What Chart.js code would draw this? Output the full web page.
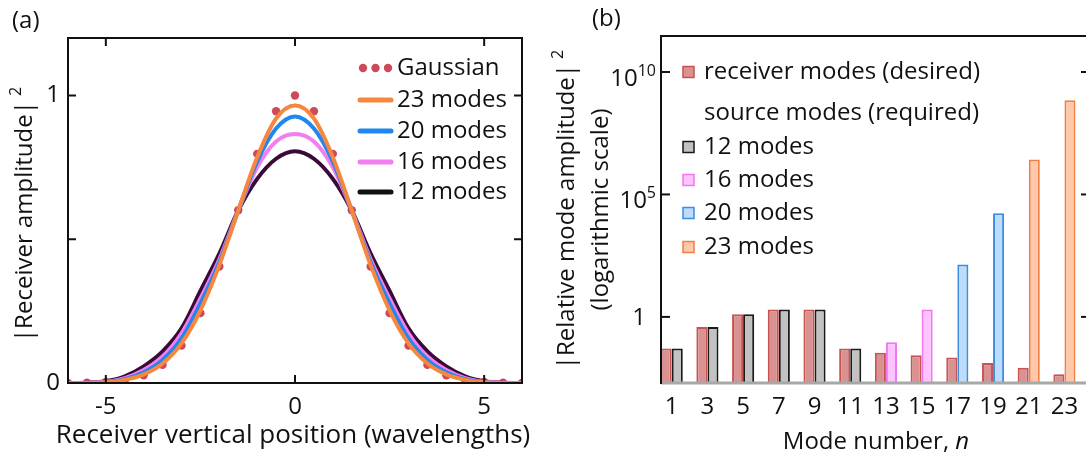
<!DOCTYPE html>
<html><head><meta charset="utf-8">
<script src="https://cdn.jsdelivr.net/npm/chart.js@4.4.1/dist/chart.umd.min.js"></script>
<style>
html,body{margin:0;padding:0;background:#fff;overflow:hidden;width:1086px;height:455px}
#wa{position:absolute;left:0;top:0;width:540px;height:455px}
#wb{position:absolute;left:540px;top:0;width:546px;height:455px;overflow:hidden}
canvas{display:block}
</style></head><body>
<div id="wa"><canvas id="ca" width="540" height="455"></canvas></div>
<div id="wb"><canvas id="cb" width="560" height="455"></canvas></div>
<script>
// ---------- panel (a) data ----------
const positions = [-6,-5.5,-5,-4.5,-4,-3.5,-3,-2.5,-2,-1.5,-1,-0.5,0,0.5,1,1.5,2,2.5,3,3.5,4,4.5,5,5.5,6];
const gaussian = [0.0003,0.001,0.0035,0.010,0.027,0.063,0.130,0.243,0.405,0.601,0.797,0.945,1.000,0.945,0.797,0.601,0.405,0.243,0.130,0.063,0.027,0.010,0.0035,0.001,0.0003];
const modes23  = [0,0.0002,0.003,0.011,0.030,0.068,0.138,0.253,0.410,0.600,0.785,0.920,0.965,0.920,0.785,0.600,0.410,0.253,0.138,0.068,0.030,0.011,0.003,0.0002,0];
const modes20  = [0,0.0003,0.003,0.013,0.037,0.080,0.155,0.277,0.420,0.600,0.770,0.885,0.927,0.885,0.770,0.600,0.420,0.277,0.155,0.080,0.037,0.013,0.003,0.0003,0];
const modes16  = [0,0.0005,0.004,0.017,0.045,0.092,0.173,0.294,0.430,0.600,0.750,0.840,0.866,0.840,0.750,0.600,0.430,0.294,0.173,0.092,0.045,0.017,0.004,0.0005,0];
const modes12  = [0,0.001,0.006,0.023,0.058,0.110,0.190,0.320,0.450,0.600,0.710,0.780,0.806,0.780,0.710,0.600,0.450,0.320,0.190,0.110,0.058,0.023,0.006,0.001,0];
const xTicksA = [-5,0,5];
const yTicksA = [0,0.5,1];
const yTickLabelsA = ['0','','1'];
const legendNamesA = ['Gaussian','23 modes','20 modes','16 modes','12 modes'];

// ---------- panel (b) data ----------
const modeNumbers = [1,3,5,7,9,11,13,15,17,19,21,23];
const receiverAmp = [0.051,0.39,1.29,2.0,2.0,0.051,0.034,0.027,0.022,0.013,0.0083,0.0046];
const sourceAmp   = [0.051,0.39,1.29,2.0,2.0,0.051,0.093,2.0,138,17000,2.7e6,7e8];
const sourceModeCount = [12,12,12,12,12,12,16,16,20,20,23,23];
const yTicksB = [1,1e5,1e10];
const yTickExpB = ['', '5', '10'];
const legendCountsB = [12,16,20,23];

// ---------- styles ----------
const TEXT = '#111111';
const FONT = '"Open Sans", Lato, sans-serif';
const COL = {gauss:'#cf4a59', m23:'#f7873f', m20:'#1f87ee', m16:'#f27ef0', m12:'#3a0a38', m12legend:'#111111'};
const SRC_FILL = {12:'#c2c2c2',16:'#ffc4ff',20:'#bddcfb',23:'#fdc9aa'};
const SRC_EDGE = {12:'#1a1a1a',16:'#ee77ee',20:'#3b8de0',23:'#f47f45'};
const RCV_FILL = '#d99191', RCV_EDGE = '#c65450';

Chart.defaults.font.family = FONT;
Chart.defaults.color = TEXT;

function line(ctx,x1,y1,x2,y2){ctx.beginPath();ctx.moveTo(x1,y1);ctx.lineTo(x2,y2);ctx.stroke();}

const plugA = {
  id:'panelA',
  afterDatasetsDraw(chart){
    const {ctx, chartArea:a, scales:{x,y}} = chart;
    ctx.save();
    ctx.strokeStyle = '#111'; ctx.lineWidth = 2;
    ctx.strokeRect(a.left, a.top, a.right-a.left, a.bottom-a.top);
    xTicksA.forEach(v=>{const p=x.getPixelForValue(v); line(ctx,p,a.bottom,p,a.bottom-8); line(ctx,p,a.top,p,a.top+8);});
    yTicksA.forEach(v=>{const p=y.getPixelForValue(v); line(ctx,a.left,p,a.left+8,p); line(ctx,a.right,p,a.right-8,p);});
    ctx.restore();
  },
  afterDraw(chart){
    const {ctx, chartArea:a} = chart;
    ctx.save();
    ctx.fillStyle = TEXT; ctx.textBaseline = 'middle';
    ctx.font = '24px '+FONT; ctx.textAlign='left';
    ctx.fillText('(a)', 12, 21);
    ctx.textAlign='center';
    ctx.font = '26px '+FONT;
    ctx.fillText('Receiver vertical position (wavelengths)', (a.left+a.right)/2 - 2, 436);
    ctx.save();
    ctx.translate(25, (a.top+a.bottom)/2 + 4);
    ctx.rotate(-Math.PI/2);
    const mainT = '|Receiver amplitude|';
    ctx.font = '24px '+FONT; const mw = ctx.measureText(mainT).width;
    ctx.font = '16px '+FONT; const sw = ctx.measureText('2').width;
    const tot = mw + 5 + sw;
    ctx.textAlign='left';
    ctx.font = '24px '+FONT; ctx.fillText(mainT, -tot/2, 0);
    ctx.font = '16px '+FONT; ctx.fillText('2', -tot/2+mw+5, -9);
    ctx.restore();
    const ds = chart.data.datasets;
    const byName = {}; ds.forEach(d=>byName[d.label]=d);
    const rows = [68, 100, 131, 162, 192];
    ctx.font = '24px '+FONT; ctx.textAlign='left';
    legendNamesA.forEach((name,i)=>{
      const yy = rows[i];
      const d = byName[name];
      if (name==='Gaussian'){
        ctx.fillStyle = d.pointBackgroundColor;
        [363,375.5,388].forEach(cx=>{ctx.beginPath();ctx.arc(cx,yy,4.2,0,Math.PI*2);ctx.fill();});
      } else {
        ctx.strokeStyle = name==='12 modes' ? COL.m12legend : d.borderColor;
        ctx.lineWidth = 5; ctx.lineCap='round';
        line(ctx,360,yy,391,yy);
      }
      ctx.fillStyle = TEXT;
      ctx.fillText(name, 397, yy);
    });
    ctx.restore();
  }
};

const lineDs = (label, vals, color) => ({label, data: positions.map((x,i)=>({x, y:vals[i]})), borderColor:color, backgroundColor:color, borderWidth:4, pointRadius:0, cubicInterpolationMode:'monotone', fill:false});

new Chart(document.getElementById('ca'), {
  type:'line',
  data:{datasets:[
    lineDs('23 modes', modes23, COL.m23),
    lineDs('20 modes', modes20, COL.m20),
    lineDs('16 modes', modes16, COL.m16),
    lineDs('12 modes', modes12, COL.m12),
    {label:'Gaussian', data: positions.map((x,i)=>({x, y:gaussian[i]})), showLine:false, pointRadius:4.2, pointBackgroundColor:COL.gauss, pointBorderWidth:0, borderColor:COL.gauss, backgroundColor:COL.gauss}
  ]},
  options:{
    responsive:false, animation:false, devicePixelRatio:1,
    layout:{padding:{left:0, top:38, right:18, bottom:0}},
    plugins:{legend:{display:false}, tooltip:{enabled:false}},
    scales:{
      x:{type:'linear', min:-6, max:6, grid:{display:false, drawTicks:false}, border:{display:false},
         afterBuildTicks:s=>{s.ticks = xTicksA.map(v=>({value:v}));},
         afterFit:s=>{s.height = 72;},
         ticks:{font:{size:24}, color:TEXT, padding:10, maxRotation:0, autoSkip:false}},
      y:{type:'linear', min:0, max:1.2, grid:{display:false, drawTicks:false}, border:{display:false},
         afterBuildTicks:s=>{s.ticks = yTicksA.map(v=>({value:v}));},
         afterFit:s=>{s.width = 68;},
         ticks:{font:{size:24}, color:TEXT, padding:8, autoSkip:false, callback:(v,i)=>yTickLabelsA[i]}}
    }
  },
  plugins:[plugA]
});

const plugB = {
  id:'panelB',
  afterDatasetsDraw(chart){
    const {ctx, chartArea:a, scales:{y}} = chart;
    ctx.save();
    ctx.lineCap='butt';
    ctx.strokeStyle = '#a8a8a8'; ctx.lineWidth = 3;
    line(ctx, a.left, a.bottom, a.right, a.bottom);
    ctx.strokeStyle = '#111'; ctx.lineWidth = 2;
    line(ctx, a.left, a.top, a.left, a.bottom+1);
    line(ctx, a.left-1, a.top, a.right, a.top);
    line(ctx, a.right, a.top, a.right, a.bottom);
    yTicksB.forEach(v=>{const p=y.getPixelForValue(v); line(ctx,a.left,p,a.left+9,p); line(ctx,a.right,p,a.right-7,p);});
    ctx.restore();
  },
  afterDraw(chart){
    const {ctx, chartArea:a, scales:{y}} = chart;
    ctx.save();
    ctx.fillStyle = TEXT; ctx.textBaseline='middle';
    yTicksB.forEach((v,i)=>{
      const p = y.getPixelForValue(v);
      const e = yTickExpB[i];
      if (!e){
        ctx.font='24px '+FONT; ctx.textAlign='right';
        ctx.fillText('1', a.left-15, p+1);
      } else {
        ctx.font='16px '+FONT; ctx.textAlign='right';
        const ew = ctx.measureText(e).width;
        ctx.fillText(e, a.left-5, p-1);
        ctx.font='24px '+FONT;
        ctx.fillText('10', a.left-5-ew, p+7);
      }
    });
    ctx.font='24px '+FONT; ctx.textAlign='left';
    ctx.fillText('(b)', 52, 19);
    const t1 = 'Mode number, ';
    ctx.font='24px '+FONT; const w1 = ctx.measureText(t1).width;
    ctx.font='italic 24px '+FONT; const w2 = ctx.measureText('n').width;
    const cx = 336, x0 = cx-(w1+w2)/2;
    ctx.textAlign='left';
    ctx.font='24px '+FONT; ctx.fillText(t1, x0, 442);
    ctx.font='italic 24px '+FONT; ctx.fillText('n', x0+w1, 442);
    const cy = (a.top+a.bottom)/2;
    ctx.save();
    ctx.translate(27, cy); ctx.rotate(-Math.PI/2);
    const m1 = '|Relative mode amplitude|';
    ctx.font='24px '+FONT; const mw = ctx.measureText(m1).width;
    ctx.font='16px '+FONT; const sw = ctx.measureText('2').width;
    const tot = mw+5+sw;
    ctx.textAlign='left';
    ctx.font='24px '+FONT; ctx.fillText(m1, -tot/2, 0);
    ctx.font='16px '+FONT; ctx.fillText('2', -tot/2+mw+5, -9);
    ctx.restore();
    ctx.save();
    ctx.translate(61, cy); ctx.rotate(-Math.PI/2);
    ctx.font='24px '+FONT; ctx.textAlign='center';
    ctx.fillText('(logarithmic scale)', 0, 0);
    ctx.restore();
    const rows = [72, 113, 147, 180, 213, 247];
    const entries = [
      {text:chart.data.datasets[0].label, fill:RCV_FILL, edge:RCV_EDGE},
      {text:chart.data.datasets[1].label, fill:null},
      ...legendCountsB.map(c=>({text:c+' modes', fill:SRC_FILL[c], edge:SRC_EDGE[c]}))
    ];
    ctx.font='24px '+FONT; ctx.textAlign='left';
    entries.forEach((en,i)=>{
      const yy = rows[i];
      if (en.fill){
        ctx.fillStyle = en.fill; ctx.fillRect(143, yy-5.5, 11, 11);
        ctx.strokeStyle = en.edge; ctx.lineWidth=1.5; ctx.strokeRect(143, yy-5.5, 11, 11);
      }
      ctx.fillStyle = TEXT;
      ctx.fillText(en.text, 164, yy);
    });
    ctx.restore();
  }
};

new Chart(document.getElementById('cb'), {
  type:'bar',
  data:{datasets:[
    {label:'receiver modes (desired)', data: modeNumbers.map((n,i)=>({x:n, y:receiverAmp[i]})), backgroundColor:RCV_FILL, borderColor:RCV_EDGE, borderWidth:2},
    {label:'source modes (required)', data: modeNumbers.map((n,i)=>({x:n, y:sourceAmp[i]})), backgroundColor:sourceModeCount.map(c=>SRC_FILL[c]), borderColor:sourceModeCount.map(c=>SRC_EDGE[c]), borderWidth:2}
  ]},
  options:{
    responsive:false, animation:false, devicePixelRatio:1,
    layout:{padding:{left:0, top:36, right:12, bottom:0}},
    plugins:{legend:{display:false}, tooltip:{enabled:false}},
    datasets:{bar:{categoryPercentage:0.62, barPercentage:1}},
    scales:{
      x:{type:'linear', offset:false, min:0.4, max:24.32, grid:{display:false, drawTicks:false}, border:{display:false},
         afterBuildTicks:s=>{s.ticks = modeNumbers.map(v=>({value:v}));},
         afterFit:s=>{s.height = 72;},
         ticks:{font:{size:24}, color:TEXT, padding:10, autoSkip:false, maxRotation:0, callback:v=>String(v)}},
      y:{type:'logarithmic', min:0.002, max:2.95e11, grid:{display:false, drawTicks:false}, border:{display:false},
         afterBuildTicks:s=>{s.ticks = yTicksB.map(v=>({value:v}));},
         afterFit:s=>{s.width = 121;},
         ticks:{display:false}}
    }
  },
  plugins:[plugB]
});
</script>
</body></html>
